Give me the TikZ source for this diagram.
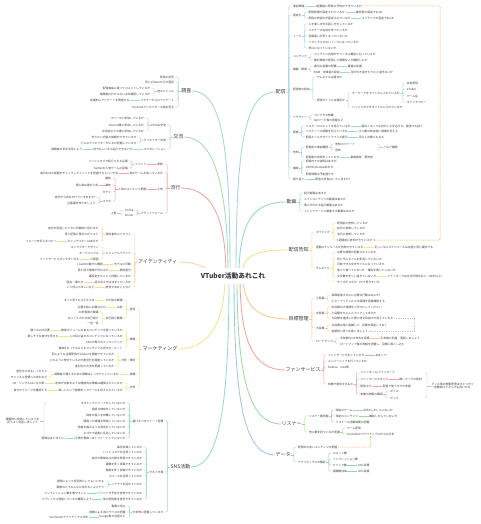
\documentclass[tikz,border=0pt]{standalone}
\usepackage{fontspec}
\setmainfont{Noto Sans CJK JP}
\usetikzlibrary{arrows.meta,backgrounds}

\definecolor{ink}{HTML}{3A3A3A}
\definecolor{cDist}{HTML}{A7D4E4}
\definecolor{cVid}{HTML}{8FDACB}
\definecolor{cAnn}{HTML}{F6E28A}
\definecolor{cGoal}{HTML}{FAC98C}
\definecolor{cFan}{HTML}{F5A39B}
\definecolor{cLis}{HTML}{9CDCA1}
\definecolor{cDat}{HTML}{9DC7E8}
\definecolor{cRes}{HTML}{A7D4E4}
\definecolor{cCom}{HTML}{A3DFB0}
\definecolor{cTrd}{HTML}{F5A39B}
\definecolor{cIde}{HTML}{FAD49A}
\definecolor{cMkt}{HTML}{F6E38C}
\definecolor{cSns}{HTML}{92DDCF}
\definecolor{sgray}{HTML}{C4C4C4}
\definecolor{dorange}{HTML}{F4A14E}

\newcommand\sz{\fontsize{2.8}{3.3}\selectfont}

\tikzset{
  rt/.style={anchor=west,inner sep=0.4pt,font=\sz,text=ink},
  lt/.style={anchor=east,inner sep=0.4pt,font=\sz,text=ink},
  topic/.style={inner sep=0.5pt,font=\fontsize{5}{6}\selectfont,text=ink},
  root/.style={fill=white,inner xsep=3pt,minimum height=16pt,font=\fontsize{6.7}{8}\selectfont\bfseries,text=ink},
  ln/.style={line width=0.45pt},
  trunk/.style={line width=0.85pt},
  odash/.style={draw=dorange,line width=0.5pt,dash pattern=on 1.3pt off 1pt,rounded corners=1pt,-{Stealth[length=2.2pt,width=2pt]}},
  gdash/.style={draw=sgray,line width=0.45pt,dash pattern=on 1.3pt off 1pt,-{Stealth[length=2pt,width=1.8pt]}},
}

% child right / left of a parent, at height y
\newcommand\ritem[5][6]{\path (#3.east) ++(#1,0) coordinate (tmp);
  \node[rt] (#2) at (tmp |- 0,#4) {#5};}
\newcommand\litem[5][6]{\path (#3.west) ++(-#1,0) coordinate (tmp);
  \node[lt] (#2) at (tmp |- 0,#4) {#5};}
% brackets and plain links
\newcommand\rbr[3]{\draw[#1,ln] (#2.east) -- ++(2.5,0) coordinate (brk);
  \foreach \kid in {#3}{\draw[#1,ln,rounded corners=1pt] (brk) |- (\kid.west);}}
\newcommand\lbr[3]{\draw[#1,ln] (#2.west) -- ++(-2.5,0) coordinate (brk);
  \foreach \kid in {#3}{\draw[#1,ln,rounded corners=1pt] (brk) |- (\kid.east);}}
\newcommand\rln[3]{\draw[#1,ln] (#2.east) -- (#3.west);}
\newcommand\lln[3]{\draw[#1,ln] (#2.west) -- (#3.east);}
% summary brackets
\newcommand\rsum[5]{\coordinate (sx) at (#4,0); \coordinate (sxa) at ({#4-2},0);
  \draw[#1,ln,rounded corners=.8pt] (sxa |- #2) -- (sx |- #2) -- (sx |- #3) -- (sxa |- #3);
  \draw[#1,ln] (sx |- #5) -- (#5.west);}
\newcommand\lsum[5]{\coordinate (sx) at (#4,0); \coordinate (sxa) at ({#4+2},0);
  \draw[#1,ln,rounded corners=.8pt] (sxa |- #2) -- (sx |- #2) -- (sx |- #3) -- (sxa |- #3);
  \draw[#1,ln] (sx |- #5) -- (#5.east);}

\begin{document}
\begin{tikzpicture}[x=1pt,y=-1pt]
\useasboundingbox (0,0) rectangle (480,524);
\node[root] (root) at (233,276) {VTuber活動あれこれ};

% main topics
\node[topic,anchor=west] (dist) at (275,92) {配信};
\node[topic,anchor=west] (vid) at (286,202) {動画};
\node[topic,anchor=west] (ann) at (288,250) {配信告知};
\node[topic,anchor=west] (goal) at (288,319) {目標管理};
\node[topic,anchor=west] (fan) at (285,370) {ファンサービス};
\node[topic,anchor=west] (lis) at (281,424) {リスナー};
\node[topic,anchor=west] (dat) at (275,455) {データ};
\node[topic,anchor=east] (res) at (192,91) {調査};
\node[topic,anchor=east] (com) at (184,137) {交流};
\node[topic,anchor=east] (trd) at (181,188) {流行};
\node[topic,anchor=east] (ide) at (178,262) {アイデンティティ};
\node[topic,anchor=east] (mkt) at (178,349) {マーケティング};
\node[topic,anchor=east] (sns) at (191,467) {SNS活動};

% ---- 配信
\ritem{d1}{dist}{6}{事前準備}
\ritem{d2}{dist}{15}{固定化}
\ritem{d3}{dist}{36}{トーク}
\ritem{d4}{dist}{57}{コンテンツ}
\ritem{d5}{dist}{69}{機器・環境}
\ritem{d6}{dist}{89}{配信枠の設定}
\ritem{d7}{dist}{117}{リテラシー}
\ritem{d8}{dist}{132}{配慮}
\ritem{d9}{dist}{152}{告知}
\ritem{d10}{dist}{168}{構成}
\ritem{d11}{dist}{179}{振り返り}
\rbr{cDist}{dist}{d1,d2,d3,d4,d5,d6,d7,d8,d9,d10,d11}
\ritem[10]{d1a}{d1}{6}{1週間前に配信の予約ができているか}
\rln{cDist}{d1}{d1a}
\ritem{d2a}{d2}{12}{配信時間が固定されているか}
\ritem{d2b}{d2}{18}{配信の枠組みが固定されているか}
\rbr{cDist}{d2}{d2a,d2b}
\ritem[10]{d2a1}{d2a}{12}{曜日等の固定でもOK}
\ritem[10]{d2b1}{d2b}{18}{コンテンツの固定でもOK}
\rln{cDist}{d2a}{d2a1}
\rln{cDist}{d2b}{d2b1}
\ritem{d3a}{d3}{24}{人を楽しませる話し方をしているか}
\ritem{d3b}{d3}{30}{リスナーの名前を呼べているか}
\ritem{d3c}{d3}{36}{言葉遣いが荒くなっていないか}
\ritem{d3d}{d3}{42}{イライラさせないトークになっているか}
\ritem{d3e}{d3}{48}{早口になっていないか}
\rbr{cDist}{d3}{d3a,d3b,d3c,d3d,d3e}
\ritem{d4a}{d4}{54}{コンテンツ内容がチャンネル趣旨に沿っているか}
\ritem{d4b}{d4}{60}{権利関係で配信して問題ないか確認したか}
\rbr{cDist}{d4}{d4a,d4b}
\ritem{d5a}{d5}{66}{適切な音量の配置}
\ritem{d5b}{d5}{72}{BGM・効果音の設定}
\rbr{cDist}{d5}{d5a,d5b}
\ritem[10]{d5a1}{d5a}{66}{最適な音量}
\ritem[10]{d5b1}{d5b}{72}{音が大き過ぎたり小さ過ぎないか}
\rln{cDist}{d5a}{d5a1}
\rln{cDist}{d5b}{d5b1}
\ritem{d6a}{d6}{77}{サムネイルは適切か}
\ritem{d6b}{d6}{100}{配信タイトルは適切か}
\rbr{cDist}{d6}{d6a,d6b}
\ritem{d6b1}{d6b}{93}{キーワードをタイトルに入れているか}
\ritem{d6b2}{d6b}{107}{ハッシュタグをタイトルに入れているか}
\rbr{cDist}{d6b}{d6b1,d6b2}
\ritem{kw1}{d6b1}{83}{女性配信}
\ritem{kw2}{d6b1}{89}{VTuber}
\ritem{kw3}{d6b1}{96}{ゲーム名}
\ritem{kw4}{d6b1}{102}{キャッチコピー}
\rbr{cDist}{d6b1}{kw1,kw2,kw3,kw4}
\ritem{d7a}{d7}{115}{コンプラの知識}
\ritem{d7b}{d7}{120}{NGワード等の把握など}
\rbr{cDist}{d7}{d7a,d7b}
\ritem{d8a}{d8}{126}{リスナーのコメントを拾えているか}
\ritem{d8b}{d8}{131}{リスナーへの感謝を伝えているか}
\ritem{d8c}{d8}{137}{配信ルールやガイドラインの提示}
\rbr{cDist}{d8}{d8a,d8b,d8c}
\ritem[10]{d8a1}{d8a}{126}{面白くなくても何かしら反応する、最低でも拾う}
\ritem[10]{d8b1}{d8b}{131}{少人数の時は特に感謝を伝える}
\ritem[10]{d8c1}{d8c}{137}{荒らし対策にもなる}
\rln{cDist}{d8a}{d8a1}
\rln{cDist}{d8b}{d8b1}
\rln{cDist}{d8c}{d8c1}
\ritem{d9a}{d9}{147}{配信前の事前確認}
\ritem{d9b}{d9}{157}{配信後の告知をしているか}
\rbr{cDist}{d9}{d9a,d9b}
\ritem{d9a1}{d9a}{144}{告知のツイート}
\ritem{d9a2}{d9a}{150}{告知}
\rbr{cDist}{d9a}{d9a1,d9a2}
\node[rt] (help) at (383,147) {ヘルプ確認};
\rsum{cDist}{d9a1}{d9a2}{379}{help}
\ritem[10]{d9b1}{d9b}{157}{事後報告・再告知}
\rln{cDist}{d9b}{d9b1}
\ritem{d10a}{d10}{161}{配信内での説明はあるか}
\ritem{d10b}{d10}{168}{OP/ED/Hookはあるか}
\ritem{d10c}{d10}{174}{配信時間は予定通りか}
\rbr{cDist}{d10}{d10a,d10b,d10c}
\ritem[10]{d11a}{d11}{179}{配信の反省はしていますか?}
\rln{cDist}{d11}{d11a}

% ---- 動画
\ritem{v1}{vid}{193}{紹介動画はあるか}
\ritem{v2}{vid}{199}{メインコンテンツの動画はあるか}
\ritem{v3}{vid}{205}{個人がわかる紹介動画はあるか}
\ritem{v4}{vid}{211}{トレンドワードに関連する動画はあるか}
\rbr{cVid}{vid}{v1,v2,v3,v4}

% ---- 配信告知
\ritem{a1}{ann}{232}{タイミング}
\ritem{a2}{ann}{247}{週間スケジュールを告知できているか}
\ritem{a3}{ann}{268}{サムネイル}
\rbr{cAnn}{ann}{a1,a2,a3}
\ritem{tk1}{a1}{223}{配信前に告知しているか}
\ritem{tk2}{a1}{228}{前日に告知しているか}
\ritem{tk3}{a1}{234}{当日に告知しているか}
\ritem{tk4}{a1}{240}{1週間前に告知できているか}
\rbr{cAnn}{a1}{tk1,tk2,tk3,tk4}
\ritem[10]{a2a}{a2}{247}{忙しいならスケジュールは前週と同じ曜日でも}
\rln{cAnn}{a2}{a2a}
\ritem{a3a}{a3}{252}{必要な情報が記載されているか}
\ritem{a3b}{a3}{259}{同じサムネイルを多用していないか}
\ritem{a3c}{a3}{264}{可読できる文字サイズになっているか}
\ritem{a3d}{a3}{270}{他人と被っていないか・権利を侵していないか}
\ritem{a3e}{a3}{276}{文字数を多くし過ぎていないか}
\ritem{a3f}{a3}{282}{サイズがスマホ・PCで見やすいか}
\rbr{cAnn}{a3}{a3a,a3b,a3c,a3d,a3e,a3f}
\ritem[10]{a3e1}{a3e}{276}{ツイッターでは文字が読めない（40字以上）}
\rln{cAnn}{a3e}{a3e1}

% ---- 目標管理
\ritem{g1}{goal}{298}{小目標}
\ritem{g2}{goal}{313}{中目標}
\ritem{g3}{goal}{328}{大目標}
\ritem{g4}{goal}{341}{ロードマップ}
\rbr{cGoal}{goal}{g1,g2,g3,g4}
\ritem{g1a}{g1}{295}{目標達成するのに必要な行動はなにか?}
\ritem{g1b}{g1}{301}{小さくクリアしたら中目標を再度確認する}
\rbr{cGoal}{g1}{g1a,g1b}
\ritem{g2a}{g2}{307}{中目標は大目標を小分けにしてください}
\ritem{g2b}{g2}{313}{小目標をちゃんとクリアしてますか}
\ritem{g2c}{g2}{318}{大目標を達成した際に何を目指すか見えているか}
\rbr{cGoal}{g2}{g2a,g2b,g2c}
\ritem{g3a}{g3}{325}{大目標は常に意識して、目標を設定しておく}
\ritem{g3b}{g3}{331}{定期的に見つめ直しましょう}
\rbr{cGoal}{g3}{g3a,g3b}
\ritem{g4a}{g4}{338}{半年単位or1年先を目標}
\ritem{g4b}{g4}{344}{ロードマップ後の実績を把握し、目標に落とし込む}
\rbr{cGoal}{g4}{g4a,g4b}
\ritem[10]{g4a1}{g4a}{338}{半年後に到達・更新しましょう}
\rln{cGoal}{g4a}{g4a1}
\draw[gdash] (g2c.east) -- (414,318) |- (g3b.east);

% ---- ファンサービス
\ritem{f1}{fan}{355}{ファンサービスをしているか}
\ritem{f2}{fan}{361}{メンバーシップを行っているか}
\ritem{f3}{fan}{367}{Fanbox、note等}
\ritem{f4}{fan}{384}{有償で提供するもの}
\rbr{cFan}{fan}{f1,f2,f3,f4}
\ritem[10]{f1a}{f1}{355}{お礼リプ}
\rln{cFan}{f1}{f1a}
\ritem{f4a}{f4}{373}{ファンネーム/ファンマーク}
\ritem{f4b}{f4}{379}{ファンマークスタンプ}
\ritem{f4c}{f4}{386}{配信タグ}
\ritem{f4d}{f4}{394}{有償の物販の確認}
\rbr{cFan}{f4}{f4a,f4b,f4c,f4d}
\ritem[10]{f4b1}{f4b}{379}{推しマークの素材}
\ritem[10]{f4c1}{f4c}{386}{配信で使うタグの考案}
\rln{cFan}{f4b}{f4b1}
\rln{cFan}{f4c}{f4c1}
\ritem{f4d1}{f4d}{391}{ボイス}
\ritem{f4d2}{f4d}{398}{グッズ}
\rbr{cFan}{f4d}{f4d1,f4d2}
\node[rt,align=left] (fsum) at (431,386) {グッズ等の物販管理はひとつずつ\\一定数超えてからでも良いかも};
\rsum{sgray}{f4a}{f4d2}{427}{fsum}

% ---- リスナー
\ritem{l1}{lis}{416}{リスナー層把握}
\ritem{l2}{lis}{432}{他に誰を見ているか把握}
\rbr{cLis}{lis}{l1,l2}
\ritem{l1a}{l1}{410}{特定のゲーム}
\ritem{l1b}{l1}{416}{特定のコンテンツ}
\ritem{l1c}{l1}{422}{リスナーの活動時間の把握}
\rbr{cLis}{l1}{l1a,l1b,l1c}
\ritem[10]{l1a1}{l1a}{410}{APEXしかしていないか}
\ritem[10]{l1b1}{l1b}{416}{雑談しかしていないか}
\rln{cLis}{l1a}{l1a1}
\rln{cLis}{l1b}{l1b1}
\ritem{l2a}{l2}{428}{ゲーム配信}
\ritem{l2b}{l2}{434}{YouTubeのアナリティクスからも分析}
\rbr{cLis}{l2}{l2a,l2b}

% ---- データ
\ritem{t1}{dat}{447}{配信中の良いコンテンツの把握}
\ritem{t2}{dat}{462}{アナリティクスの解析}
\rbr{cDat}{dat}{t1,t2}
\ritem{t2a}{t2}{453}{コメント数}
\ritem{t2b}{t2}{459}{インプレッション数}
\ritem{t2c}{t2}{465}{クリック数}
\ritem{t2d}{t2}{471}{視聴維持率}
\rbr{cDat}{t2}{t2a,t2b,t2c,t2d}
\ritem[10]{t2c1}{t2c}{465}{10\%目標}
\ritem[10]{t2d1}{t2d}{471}{30\%目標}
\rln{cDat}{t2c}{t2c1}
\rln{cDat}{t2d}{t2d1}
\draw[odash] (t1.east) -| (l2b.south);

% dashed link from 配信 to 配信告知
\draw[odash] (d1a.east) -- (440,6) |- (tk4.east);

% ---- 調査
\litem{r1}{res}{77}{配信の状況}
\litem{r2}{res}{82}{同じVTuberからの意見}
\litem{r3}{res}{91}{他のジャンル}
\litem{r4}{res}{100}{リスナーからのアンケート}
\litem{r5}{res}{107}{YouTubeクリエイターの話を見る}
\lbr{cRes}{res}{r1,r2,r3,r4,r5}
\litem{r3a}{r3}{88}{配信者毎に違ってコメントしているか}
\litem{r3b}{r3}{94}{視聴者がわからない点を確認しているか}
\lbr{cRes}{r3}{r3a,r3b}
\litem[10]{r4a}{r4}{100}{定期的にアンケートを実施する}
\lln{cRes}{r4}{r4a}

% ---- 交流
\litem{c1}{com}{125}{VTuber交流}
\litem{c2}{com}{140}{クリエイター交流}
\litem{c3}{com}{149}{コラボレーション}
\lbr{cCom}{com}{c1,c2,c3}
\litem{c1a}{c1}{118}{スペースに参加しているか}
\litem{c1b}{c1}{125}{Discord等に参加しているか}
\litem{c1c}{c1}{131}{交流会などの場に参加しているか}
\lbr{cCom}{c1}{c1a,c1b,c1c}
\litem{c2a}{c2}{137}{作りたい内容の依頼ができているか}
\litem{c2b}{c2}{143}{どんなクリエイターがいるか把握しているか}
\lbr{cCom}{c2}{c2a,c2b}
\litem[10]{c3a}{c3}{149}{何でもいいから紹介できないか}
\litem[10]{c3b}{c3a}{149}{視聴者の声を活用しよう}
\lln{cCom}{c3}{c3a}
\lln{cCom}{c3a}{c3b}

% ---- 流行
\litem{n1}{trd}{164}{季節}
\litem{n2}{trd}{173}{旬のゲームを追っているか}
\litem{n3}{trd}{189}{人気}
\litem{n4}{trd}{213}{プラットフォーム}
\lbr{cTrd}{trd}{n1,n2,n3,n4}
\litem[10]{n1a}{n1}{164}{イベント}
\lln{cTrd}{n1}{n1a}
\litem{n1a1}{n1a}{161}{ハッシュタグで紹介される企画}
\litem{n1a2}{n1a}{168}{Twitterの人気ゲームの投稿}
\lbr{cTrd}{n1a}{n1a1,n1a2}
\litem[10]{n2a}{n2}{173}{毎日SNSの話題をチェックしてトレンドを把握するといいかも}
\lln{cTrd}{n2}{n2a}
\litem[10]{n3a}{n3}{189}{人気のコンテンツ把握}
\lln{cTrd}{n3}{n3a}
\litem{p1}{n3a}{178}{雑談}
\litem{p2}{n3a}{185}{歌枠}
\litem{p3}{n3a}{192}{ガチャ}
\litem{p4}{n3a}{201}{コラボ}
\lbr{cTrd}{n3a}{p1,p2,p3,p4}
\litem{p2a}{p2}{185}{個人勢は歌が人気}
\lln{cTrd}{p2}{p2a}
\litem{p4a}{p4}{197}{自分から声をかけていきますか?}
\litem{p4b}{p4}{203}{企画書を作りましょう}
\lbr{cTrd}{p4}{p4a,p4b}
\litem{n4a}{n4}{210}{TikTok}
\litem{n4b}{n4}{215}{Shorts}
\lbr{cTrd}{n4}{n4a,n4b}
\node[lt] (up) at (117,213) {上昇};
\lsum{sgray}{n4a}{n4b}{121}{up}

% ---- アイデンティティ
\litem{i1}{ide}{234}{発信者的コンセプト}
\litem{i2}{ide}{253}{ビジュアルブランド}
\litem{i3}{ide}{264}{モデルの可動}
\litem{i4}{ide}{270}{表情差分}
\litem{i5}{ide}{276}{裏設定をちゃんと把握しているか}
\litem{i6}{ide}{282}{話の伝え方は決まっているか}
\litem{i7}{ide}{287}{禁句や決めごとなど}
\lbr{cIde}{ide}{i1,i2,i3,i4,i5,i6,i7}
\litem{i1a}{i1}{228}{自分を見返したときに印象的に伝わるか}
\litem{i1b}{i1}{234}{見て記憶に残るのがベスト}
\litem{i1c}{i1}{241}{キャッチコピーはあるか}
\lbr{cIde}{i1}{i1a,i1b,i1c}
\litem[10]{i1c1}{i1c}{241}{イメージを伝えるコピー}
\lln{cIde}{i1c}{i1c1}
\litem{i2a}{i2}{247}{キャラクターデザイン}
\litem{i2b}{i2}{253}{キービジュアル}
\litem{i2c}{i2}{259}{三面図}
\lbr{cIde}{i2}{i2a,i2b,i2c}
\litem[10]{i2c1}{i2c}{259}{ファンサービスがしやすくなる}
\lln{cIde}{i2c}{i2c1}
\litem[10]{i3a}{i3}{264}{Live2Dの動きの確認}
\litem[10]{i4a}{i4}{270}{見た目で感情が伝わるか}
\litem[10]{i6a}{i6}{282}{設定・喋り方}
\litem[10]{i7a}{i7}{287}{こう呼んでほしいなど}
\lln{cIde}{i3}{i3a}
\lln{cIde}{i4}{i4a}
\lln{cIde}{i6}{i6a}
\lln{cIde}{i7}{i7a}

% ---- マーケティング
\litem{m1}{mkt}{309}{宣伝}
\litem{m2}{mkt}{339}{戦略}
\litem{m3}{mkt}{360}{分析・検討}
\litem{m4}{mkt}{374}{導線}
\litem{m5}{mkt}{387}{方針}
\lbr{cMkt}{mkt}{m1,m2,m3,m4,m5}
\litem{m1a}{m1}{300}{切り抜き動画}
\litem{m1b}{m1}{307}{広告}
\litem{m1c}{m1}{318}{自己紹介動画}
\lbr{cMkt}{m1}{m1a,m1b,m1c}
\litem[10]{m1a1}{m1a}{300}{ずっと見てもらえる工夫}
\litem[10]{m1b1}{m1b}{307}{必要な時に必要なだけ}
\lln{cMkt}{m1a}{m1a1}
\lln{cMkt}{m1b}{m1b1}
\litem{m1c1}{m1c}{312}{30秒程度の動画}
\litem{m1c2}{m1c}{318}{ゆっくりみれる自己紹介}
\litem{m1c3}{m1c}{324}{一言一言}
\lbr{cMkt}{m1c}{m1c1,m1c2,m1c3}
\litem{m2a}{m2}{330}{検索ボリュームのあるコンテンツを扱っているか}
\litem{m2b}{m2}{336}{人の目に留まるコンテンツになっているか}
\litem{m2c}{m2}{342}{Shorts等でのミニコンテンツ}
\litem{m2d}{m2}{348}{興味をもってもらえるコンテンツの見せ方・ルート}
\lbr{cMkt}{m2}{m2a,m2b,m2c,m2d}
\litem[10]{m2a1}{m2a}{330}{調べものが必要}
\litem[10]{m2b1}{m2b}{336}{楽しそうな自分を見せる}
\lln{cMkt}{m2a}{m2a1}
\lln{cMkt}{m2b}{m2b1}
\litem{m3a}{m3}{354}{同じような企画配信やVTuberを調査できているか}
\litem{m3b}{m3}{360}{どのように伸びているのか差別化を調査しているか}
\litem{m3c}{m3}{366}{差別化の方法を把握しているか}
\lbr{cMkt}{m3}{m3a,m3b,m3c}
\litem[10]{m4a}{m4}{374}{視聴者が増えるための導線はしっかりとしているか}
\lln{cMkt}{m4}{m4a}
\litem{m4a1}{m4a}{371}{差別化の点もしっかりと}
\litem{m4a2}{m4a}{377}{チャンネル登録への流れなど}
\lbr{cMkt}{m4a}{m4a1,m4a2}
\litem{m5a}{m5}{383}{告知が出来るような間接的な導線は確保されているか}
\litem{m5b}{m5}{390}{楽しいという感情をリスナーにも伝えられているか}
\lbr{cMkt}{m5}{m5a,m5b}
\litem[10]{m5a1}{m5a}{383}{CD・シングルはこちら等}
\litem[10]{m5b1}{m5b}{390}{自分のイメージを確認する}
\lln{cMkt}{m5a}{m5a1}
\lln{cMkt}{m5b}{m5b1}

% ---- SNS活動
\litem{s1}{sns}{421}{避けるべきツイート習慣}
\litem{s2}{sns}{472}{やるべき事}
\litem{s3}{sns}{512}{分析的に把握しているか}
\lbr{cSns}{sns}{s1,s2,s3}
\litem{s1a}{s1}{403}{ネガティブツイートをしていないか}
\litem{s1b}{s1}{409}{過度な依存をしていないか}
\litem{s1c}{s1}{415}{特定の個人を非難していないか}
\litem{s1d}{s1}{421}{間違った情報を発信していないか}
\litem{s1e}{s1}{427}{他者を煽るような発言をしていないか}
\litem{s1f}{s1}{433}{エゴサで過剰に反応していないか}
\litem{s1g}{s1}{438}{不満を愚痴っぽくツイートしていないか}
\lbr{cSns}{s1}{s1a,s1b,s1c,s1d,s1e,s1f,s1g}
\litem[10]{s1g1}{s1g}{438}{感情はほどほどに}
\lln{cSns}{s1g}{s1g1}
\node[lt,align=center] (ssum) at (40,421) {積極的に発信している人を\\見てよく見習いましょう};
\lsum{sgray}{s1a}{s1g}{44}{ssum}
\litem{s2a}{s2}{447}{毎日投稿しているか}
\litem{s2b}{s2}{452}{ハッシュタグを活用しているか}
\litem{s2c}{s2}{458}{自分の興味ある内容を発信できているか}
\litem{s2d}{s2}{464}{画像を多く投稿できているか}
\litem{s2e}{s2}{470}{動画を多く投稿できているか}
\litem{s2f}{s2}{476}{スペースを活用しているか}
\litem{s2g}{s2}{484}{リプライを返せているか}
\litem{s2h}{s2}{493}{イベントや予定を告知できているか}
\litem{s2i}{s2}{499}{他の配信者を宣伝できているか}
\lbr{cSns}{s2}{s2a,s2b,s2c,s2d,s2e,s2f,s2g,s2h,s2i}
\litem{s2g1}{s2g}{481}{感情によって日記的にしてもいいかも}
\litem{s2g2}{s2g}{487}{画像などでみんなに伝わるとよさそう}
\lbr{cSns}{s2g}{s2g1,s2g2}
\litem[10]{s2h1}{s2h}{493}{インプレッション数を増やすこと}
\litem[10]{s2i1}{s2i}{499}{パブリックに発信しているか確認しよう}
\lln{cSns}{s2h}{s2h1}
\lln{cSns}{s2i}{s2i1}
\litem{s3a}{s3}{506}{動画の反応}
\litem{s3b}{s3}{512}{視聴による流入サイズの把握}
\litem{s3c}{s3}{517}{Google表の活用など}
\lbr{cSns}{s3}{s3a,s3b,s3c}
\litem[10]{s3c1}{s3c}{517}{YouTubeのアナリティクス分析}
\lln{cSns}{s3c}{s3c1}

% trunks, behind the root
\begin{scope}[on background layer]
  \fill[white] (0,0) rectangle (480,524);
  \draw[cRes,trunk] (res.east) .. controls +(32,0) and +(0,-120) .. ([xshift=-3pt]root.center);
  \draw[cCom,trunk] (com.east) .. controls +(30,0) and +(0,-90) .. ([xshift=-5pt]root.center);
  \draw[cTrd,trunk] (trd.east) .. controls +(30,0) and +(0,-60) .. ([xshift=-7pt]root.center);
  \draw[cIde,trunk] (ide.east) .. controls +(22,0) and +(-20,-8) .. ([xshift=-10pt]root.center);
  \draw[cMkt,trunk] (mkt.east) .. controls +(32,0) and +(0,45) .. ([xshift=-8pt]root.center);
  \draw[cSns,trunk] (sns.east) .. controls +(30,0) and +(0,120) .. ([xshift=-4pt]root.center);
  \draw[cDist,trunk] (dist.west) .. controls +(-32,0) and +(0,-120) .. ([xshift=3pt]root.center);
  \draw[cVid,trunk] (vid.west) .. controls +(-32,0) and +(0,-55) .. ([xshift=6pt]root.center);
  \draw[cAnn,trunk] (ann.west) .. controls +(-30,0) and +(0,-22) .. ([xshift=9pt]root.center);
  \draw[cGoal,trunk] (goal.west) .. controls +(-32,0) and +(0,28) .. ([xshift=10pt]root.center);
  \draw[cFan,trunk] (fan.west) .. controls +(-32,0) and +(0,65) .. ([xshift=7pt]root.center);
  \draw[cLis,trunk] (lis.west) .. controls +(-32,0) and +(0,100) .. ([xshift=4pt]root.center);
  \draw[cDat,trunk] (dat.west) .. controls +(-32,0) and +(0,120) .. ([xshift=1pt]root.center);
\end{scope}
\end{tikzpicture}
\end{document}
